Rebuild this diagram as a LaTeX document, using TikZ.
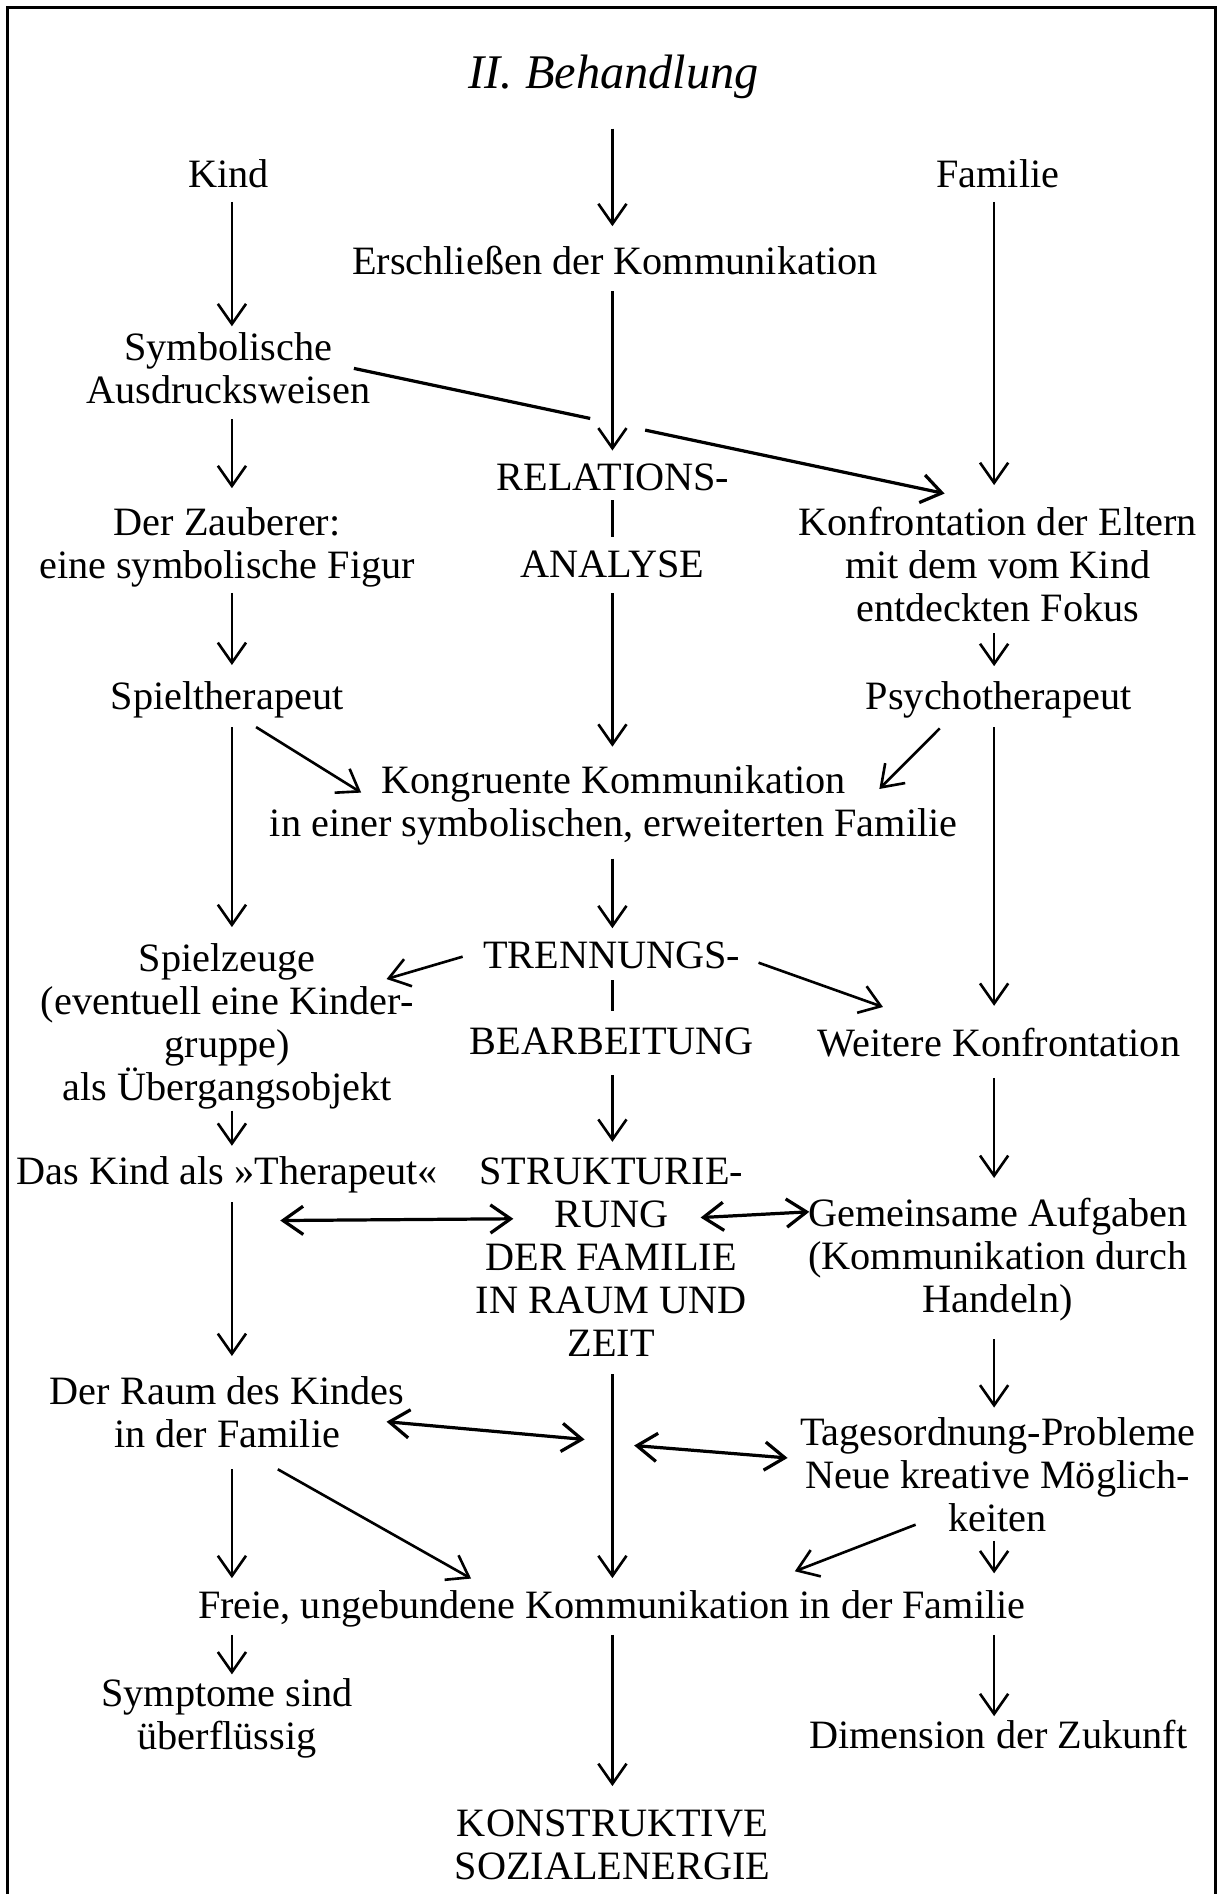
\documentclass[tikz,border=0pt]{standalone}
\usepackage{fontspec}
\setmainfont{Liberation Serif}
\usetikzlibrary{arrows.meta,calc}
\begin{document}
\begin{tikzpicture}[x=0.6pt,y=-0.6pt,
  txt/.style={align=center, inner sep=0pt, font=\fontsize{20}{21.4}\selectfont},
  ttl/.style={inner sep=0pt, font=\fontsize{24}{28}\selectfont\itshape},
  arr/.style={-{Straight Barb[length=10pt,width=14pt]}, line width=1.3pt},
  darr/.style={{Straight Barb[length=10pt,width=14pt]}-{Straight Barb[length=10pt,width=14pt]}, line width=1.6pt},
  sepline/.style={line width=1.3pt},
  sgap/.style 2 args={shorten <=#1, shorten >=#2},
  frame/.style={line width=1.5pt}]
\useasboundingbox (0,0) rectangle (1009,1568);
\draw[frame] (6,1568) -- (6,6) -- (1006,6) -- (1006,1568);

\coordinate (colL) at (192,0);
\coordinate (colC) at (507,0);
\coordinate (colR) at (823,0);

\node[ttl] (title) at (508,64) {II. Behandlung};
\node[txt] (kind) at (189,144) {Kind};
\node[txt] (familie) at (826,144) {Familie};
\node[txt] (erschl) at (509,216) {Erschließen der Kommunikation};
\node[txt] (symb) at (189,305) {Symbolische\\Ausdrucksweisen};
\node[txt] (rel1) at (507.5,395.5) {RELATIONS-};
\node[txt] (rel2) at (507,467.5) {ANALYSE};
\node[txt] (zaub) at (188,453.5) {Der Zauberer:\\eine symbolische Figur};
\node[txt] (konf) at (826,467.5) {Konfrontation der Eltern\\mit dem vom Kind\\entdeckten Fokus};
\node[txt] (spielth) at (188,579) {Spieltherapeut};
\node[txt] (psycho) at (827,579) {Psychotherapeut};
\node[txt] (kongr) at (508,666.5) {Kongruente Kommunikation\\in einer symbolischen, erweiterten Familie};
\node[txt] (trenn1) at (506.5,791) {TRENNUNGS-};
\node[txt] (trenn2) at (506.5,862.5) {BEARBEITUNG};
\node[txt] (spielz) at (188,849.5) {Spielzeuge\\(eventuell eine Kinder-\\gruppe)\\als Übergangsobjekt};
\node[txt] (weitere) at (827,863) {Weitere Konfrontation};
\node[txt] (daskind) at (188,973) {Das Kind als »Therapeut«};
\node[txt] (strukt) at (506,1041) {STRUKTURIE-\\RUNG\\DER FAMILIE\\IN RAUM UND\\ZEIT};
\node[txt] (gemein) at (826,1042.5) {Gemeinsame Aufgaben\\(Kommunikation durch\\Handeln)};
\node[txt] (derraum) at (188,1169.5) {Der Raum des Kindes\\in der Familie};
\node[txt] (tages) at (826,1221) {Tagesordnung-Probleme\\Neue kreative Möglich-\\keiten};
\node[txt] (freie) at (506.5,1332) {Freie, ungebundene Kommunikation in der Familie};
\node[txt] (sympt) at (188,1422.5) {Symptome sind\\überflüssig};
\node[txt] (dimen) at (826.5,1436) {Dimension der Zukunft};
\node[txt] (konstr) at (507,1527) {KONSTRUKTIVE\\SOZIALENERGIE};

% vertical connectors
\draw[arr, sgap={14.4pt}{9.9pt}] (title.south -| colC) -- (erschl.north -| colC);
\draw[arr, sgap={6.6pt}{3pt}] (kind.south -| colL) -- (symb.north -| colL);
\draw[arr, sgap={6.6pt}{10.8pt}] (familie.south -| colR) -- (konf.north -| colR);
\draw[arr, sgap={7.8pt}{6.6pt}] (erschl.south -| colC) -- (rel1.north -| colC);
\draw[sepline, sgap={4.2pt}{6.6pt}] (rel1.south -| colC) -- (rel2.north -| colC);
\draw[arr, sgap={7.2pt}{9.6pt}] (symb.south -| colL) -- (zaub.north -| colL);
\draw[arr, sgap={7.2pt}{9pt}] (rel2.south -| colC) -- (kongr.north -| colC);
\draw[arr, sgap={2.4pt}{7.8pt}] (zaub.south -| colL) -- (spielth.north -| colL);
\draw[arr, sgap={5.4pt}{7.2pt}] (konf.south -| colR) -- (psycho.north -| colR);
\draw[arr, sgap={4.5pt}{7.8pt}] (spielth.south -| colL) -- (spielz.north -| colL);
\draw[arr, sgap={4.5pt}{10.8pt}] (psycho.south -| colR) -- (weitere.north -| colR);
\draw[arr, sgap={6.6pt}{6.6pt}] (kongr.south -| colC) -- (trenn1.north -| colC);
\draw[sepline, sgap={5.4pt}{8.4pt}] (trenn1.south -| colC) -- (trenn2.north -| colC);
\draw[arr, sgap={9.6pt}{7.8pt}] (trenn2.south -| colC) -- (strukt.north -| colC);
\draw[arr, sgap={0.6pt}{5.4pt}] (spielz.south -| colL) -- (daskind.north -| colL);
\draw[arr, sgap={10.2pt}{9.6pt}] (weitere.south -| colR) -- (gemein.north -| colR);
\draw[arr, sgap={4.2pt}{10.2pt}] (daskind.south -| colL) -- (derraum.north -| colL);
\draw[arr, sgap={8.4pt}{6pt}] (strukt.south -| colC) -- (freie.north -| colC);
\draw[arr, sgap={9pt}{4.8pt}] (gemein.south -| colR) -- (tages.north -| colR);
\draw[arr, sgap={10.2pt}{6pt}] (derraum.south -| colL) -- (freie.north -| colL);
\draw[arr, sgap={4.2pt}{8.4pt}] (tages.south -| colR) -- (freie.north -| colR);
\draw[arr, sgap={3.6pt}{1.8pt}] (freie.south -| colL) -- (sympt.north -| colL);
\draw[arr, sgap={3.6pt}{11.4pt}] (freie.south -| colC) -- (konstr.north -| colC);
\draw[arr, sgap={3.6pt}{1.8pt}] (freie.south -| colR) -- (dimen.north -| colR);

% diagonal connectors
\coordinate (s1) at ([xshift=62.4pt]symb.center);
\coordinate (k1) at ([xshift=-26.4pt,yshift=6.6pt]konf.north);
\draw[line width=1.6pt] (s1) -- ($(s1)!0.40!(k1)$);
\draw[arr, line width=1.6pt] ($(s1)!0.493!(k1)$) -- (k1);

\draw[arr] ([xshift=14.4pt,yshift=-4.5pt]spielth.south) -- ([xshift=-125.4pt,yshift=-13.8pt]kongr.north);
\draw[arr] ([xshift=-29.4pt,yshift=-5.1pt]psycho.south) -- ([xshift=132pt,yshift=-12pt]kongr.north);
\draw[arr] ([xshift=-74.1pt,yshift=-0.6pt]trenn1.center) -- ([xshift=79.2pt,yshift=-18pt]spielz.north);
\draw[arr] ([xshift=72.9pt,yshift=-3.6pt]trenn1.center) -- ([xshift=-57.6pt,yshift=10.2pt]weitere.north);

\draw[darr] ([xshift=26.4pt,yshift=-13.2pt]daskind.south) -- ([xshift=-48.6pt,yshift=19.2pt]strukt.center);
\draw[darr] ([xshift=44.4pt,yshift=19.8pt]strukt.center) -- ([xshift=-93.6pt,yshift=-7.2pt]gemein.north);
\draw[darr] ([xshift=79.2pt,yshift=-4.5pt]derraum.center) -- ([xshift=-13.2pt,yshift=-40.8pt]strukt.south);
\draw[darr] ([xshift=11.4pt,yshift=-43.8pt]strukt.south) -- ([xshift=-104.4pt,yshift=8.4pt]tages.center);

\draw[arr] ([xshift=25.2pt,yshift=-10.2pt]derraum.south) -- ([xshift=-69.9pt,yshift=5.8pt]freie.north);
\draw[arr] ([xshift=-40.8pt,yshift=3.9pt]tages.south) -- ([xshift=90.9pt,yshift=9.4pt]freie.north);
\end{tikzpicture}
\end{document}
